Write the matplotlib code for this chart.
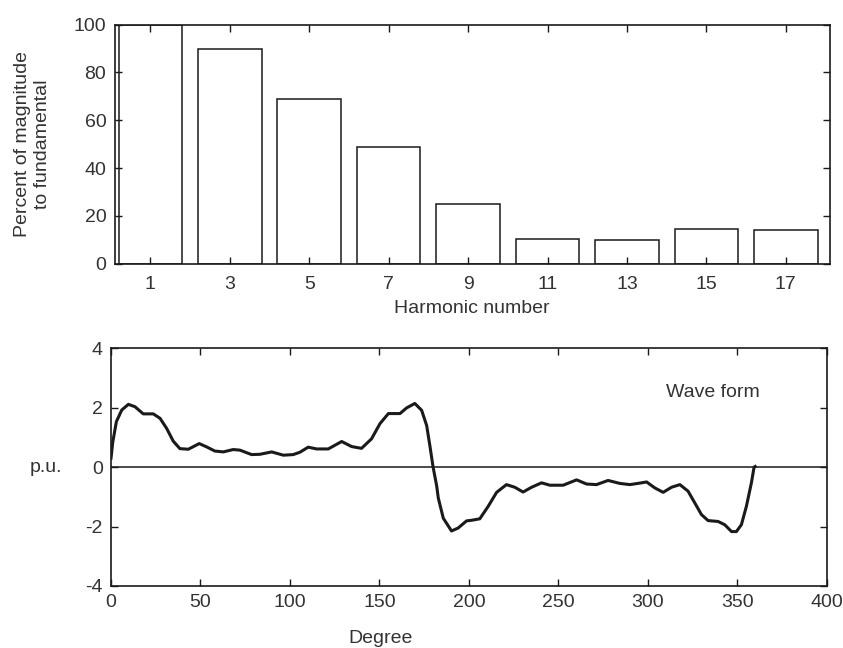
import numpy as np
import matplotlib
matplotlib.use("Agg")
import matplotlib.pyplot as plt

plt.rcParams['font.family'] = ['Liberation Sans', 'DejaVu Sans']
plt.rcParams['axes.unicode_minus'] = False

# harmonic spectrum (percent of fundamental)
harmonics = ['1', '3', '5', '7', '9', '11', '13', '15', '17']
percent = [100, 90, 69, 49, 25, 10.5, 10, 14.5, 14]

# waveform (degree, p.u.)
degree = [0, 1, 3, 6, 9.7, 13.4, 18, 23.6, 27.4, 31.1, 34.8, 38.5, 43.2, 49.3,
          53.4, 58, 62.7, 68.3, 72, 78.6, 83.2, 89.8, 96.3, 101.8, 105.6, 110.2,
          114.9, 121.4, 128.9, 134.5, 140, 145.6, 150.3, 155, 161.5, 165.2,
          169.8, 173.6, 176.4, 178.2, 180, 182, 182.9, 185.7, 190.3, 194,
          198.7, 201.5, 206.1, 210.8, 215.5, 221, 225.7, 230.3, 235, 240.6,
          245.3, 252.7, 260.2, 265.8, 271.3, 277.8, 284.4, 290, 296.5, 299.3,
          303.9, 308.6, 313.2, 317.9, 322.5, 326.3, 330, 333.7, 339.3, 343,
          346.8, 349.5, 352.3, 355.1, 357.9, 359.4, 360]
wave = [0.3, 0.85, 1.53, 1.92, 2.11, 2.03, 1.79, 1.79, 1.64, 1.30, 0.87, 0.62,
        0.60, 0.79, 0.68, 0.54, 0.51, 0.59, 0.57, 0.42, 0.43, 0.51, 0.40, 0.42,
        0.50, 0.67, 0.61, 0.61, 0.86, 0.69, 0.63, 0.95, 1.46, 1.80, 1.80, 1.99,
        2.14, 1.91, 1.40, 0.72, 0.0, -0.63, -1.04, -1.72, -2.15, -2.05, -1.81,
        -1.79, -1.74, -1.32, -0.85, -0.59, -0.68, -0.84, -0.68, -0.53, -0.61,
        -0.61, -0.43, -0.57, -0.59, -0.45, -0.55, -0.59, -0.53, -0.50, -0.70,
        -0.85, -0.68, -0.59, -0.81, -1.21, -1.60, -1.80, -1.83, -1.94, -2.17,
        -2.17, -1.94, -1.32, -0.53, 0.0, 0.02]

ink = '#1a1a1a'
txt = '#333333'
fs = 14

fig = plt.figure(figsize=(8.43, 6.48), dpi=100)

# top: bar chart
ax1 = fig.add_axes([0.136, 0.593, 0.848, 0.369])
pos = np.arange(len(harmonics))
ax1.bar(pos, percent, width=0.8, facecolor='white', edgecolor=ink, linewidth=1.1)
ax1.set_xlim(-0.45, 8.55)
ax1.set_ylim(0, 100)
ax1.set_xticks(pos)
ax1.set_xticklabels(harmonics)
ax1.set_yticks(range(0, 101, 20))
ax1.set_xlabel('Harmonic number', fontsize=fs, color=txt, labelpad=5)
ax1.set_ylabel('Percent of magnitude\nto fundamental', fontsize=fs, color=txt,
               linespacing=1.3, labelpad=16)

# bottom: waveform
ax2 = fig.add_axes([0.1317, 0.0957, 0.849, 0.367])
ax2.plot(degree, wave, color=ink, linewidth=2.2)
ax2.axhline(0, color=ink, linewidth=1.1)
ax2.set_xlim(0, 400)
ax2.set_ylim(-4, 4)
ax2.set_xticks(range(0, 401, 50))
ax2.set_yticks(range(-4, 5, 2))
ax2.set_xlabel('Degree', fontsize=fs, color=txt)
ax2.xaxis.set_label_coords(0.376, -0.185)
ax2.set_ylabel('p.u.', fontsize=fs, color=txt, rotation=0, labelpad=28, va='center')
ax2.text(310, 2.5, 'Wave form', fontsize=fs, color=txt, ha='left', va='center')

for ax in (ax1, ax2):
    ax.tick_params(direction='in', top=True, right=True, length=5, width=1,
                   labelsize=fs, labelcolor=txt, color=ink, pad=6)
    for s in ax.spines.values():
        s.set_linewidth(1.2)
        s.set_color(ink)
ax1.tick_params(axis='x', pad=9)

fig.savefig('out.png', dpi=100)
